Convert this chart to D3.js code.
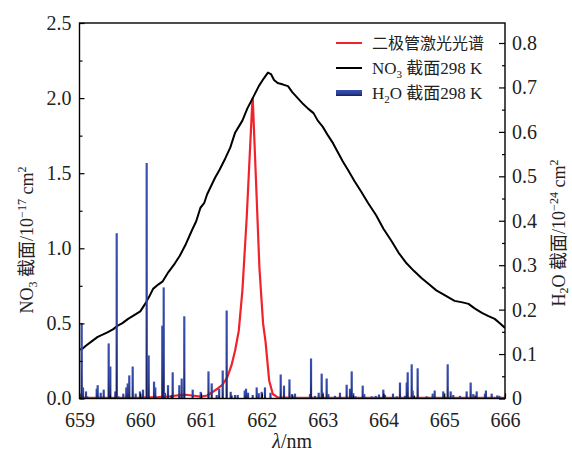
<!DOCTYPE html>
<html>
<head>
<meta charset="utf-8">
<script src="https://cdn.jsdelivr.net/npm/d3@7"></script>
<style>
  body { margin: 0; background: #fff; }
  svg text { font-family: "Liberation Serif", "Noto Sans CJK SC", serif; fill: #222; }
</style>
</head>
<body>
<div id="chart"></div>
<script>
const WIDTH = 572;
const HEIGHT = 452;

// NO3 cross section (left axis, 1e-17 cm^2)
const no3Wave = [659.00, 659.03, 659.10, 659.20, 659.30, 659.46, 659.55, 659.63, 659.70, 659.80,
  659.94, 660.00, 660.08, 660.15, 660.21, 660.30, 660.37, 660.46, 660.57, 660.65,
  660.74, 660.85, 660.92, 660.99, 661.05, 661.10, 661.23, 661.30, 661.40, 661.48,
  661.56, 661.62, 661.68, 661.76, 661.85, 661.95, 662.03, 662.10, 662.15, 662.20,
  662.26, 662.35, 662.43, 662.50, 662.59, 662.68, 662.76, 662.85, 662.92, 663.00,
  663.09, 663.17, 663.25, 663.33, 663.42, 663.52, 663.63, 663.75, 663.88, 664.00,
  664.13, 664.25, 664.38, 664.50, 664.63, 664.75, 664.87, 665.00, 665.17, 665.30,
  665.40, 665.50, 665.62, 665.72, 665.83, 665.92, 666.00];
const no3Value = [0.33, 0.325, 0.35, 0.38, 0.41, 0.44, 0.46, 0.485, 0.50, 0.53,
  0.565, 0.58, 0.63, 0.68, 0.73, 0.76, 0.78, 0.84, 0.90, 0.95,
  1.02, 1.12, 1.18, 1.27, 1.30, 1.36, 1.47, 1.52, 1.60, 1.67,
  1.77, 1.81, 1.85, 1.93, 2.00, 2.08, 2.13, 2.17, 2.16, 2.12,
  2.10, 2.09, 2.08, 2.04, 2.00, 1.96, 1.93, 1.90, 1.85, 1.81,
  1.75, 1.70, 1.64, 1.58, 1.52, 1.45, 1.38, 1.30, 1.22, 1.13,
  1.05, 0.97, 0.90, 0.85, 0.80, 0.76, 0.72, 0.69, 0.65, 0.64,
  0.63, 0.60, 0.57, 0.55, 0.53, 0.50, 0.47];

// diode laser spectrum (left axis scale)
const laserWave = [659.00, 659.50, 660.00, 660.30, 660.50, 660.65, 660.75, 660.85, 661.00, 661.10,
  661.27, 661.35, 661.43, 661.50, 661.56, 661.62, 661.68, 661.75, 661.84, 661.85,
  661.96, 662.02, 662.06, 662.12, 662.18, 662.26, 662.50, 663.00, 664.00, 665.00, 666.00];
const laserValue = [0.005, 0.005, 0.006, 0.01, 0.015, 0.022, 0.025, 0.02, 0.012, 0.02,
  0.065, 0.09, 0.14, 0.22, 0.32, 0.45, 0.72, 1.2, 1.95, 2.0,
  0.87, 0.5, 0.38, 0.12, 0.03, 0.007, 0.005, 0.005, 0.005, 0.005, 0.005];

// H2O line cross sections (right axis, 1e-24 cm^2)
const h2oWave = [659.036, 659.058, 659.107, 659.128, 659.283, 659.299, 659.349, 659.398, 659.480, 659.507,
  659.589, 659.612, 659.638, 659.721, 659.770, 659.793, 659.819, 659.875, 659.924, 659.995,
  660.045, 660.105, 660.138, 660.226, 660.247, 660.362, 660.385, 660.406, 660.456, 660.533,
  660.642, 660.681, 660.724, 660.862, 660.994, 661.122, 661.175, 661.257, 661.298, 661.356,
  661.421, 661.487, 661.558, 661.602, 661.718, 661.740, 661.773, 661.849, 661.915, 661.948,
  661.997, 662.051, 662.142, 662.310, 662.364, 662.454, 662.496, 662.545, 662.792, 662.809,
  662.874, 662.935, 662.984, 662.994, 663.066, 663.093, 663.203, 663.285, 663.395, 663.450,
  663.478, 663.504, 663.543, 663.659, 663.685, 663.807, 663.873, 663.927, 663.998, 664.026,
  664.157, 664.218, 664.272, 664.355, 664.383, 664.399, 664.465, 664.481, 664.563, 664.711,
  664.810, 664.843, 664.984, 665.057, 665.106, 665.149, 665.259, 665.369, 665.435, 665.478,
  665.534, 665.670, 665.686, 665.781, 665.873, 665.906];
const h2oValue = [0.170, 0.025, 0.016, 0.005, 0.022, 0.030, 0.013, 0.020, 0.124, 0.072,
  0.016, 0.372, 0.005, 0.011, 0.025, 0.034, 0.052, 0.072, 0.011, 0.016,
  0.020, 0.530, 0.097, 0.038, 0.025, 0.164, 0.250, 0.013, 0.030, 0.059,
  0.030, 0.045, 0.185, 0.020, 0.015, 0.061, 0.034, 0.008, 0.022, 0.063,
  0.198, 0.015, 0.008, 0.008, 0.018, 0.022, 0.013, 0.008, 0.025, 0.012,
  0.015, 0.025, 0.013, 0.054, 0.029, 0.043, 0.010, 0.011, 0.010, 0.090,
  0.006, 0.013, 0.056, 0.015, 0.045, 0.010, 0.006, 0.013, 0.031, 0.022,
  0.061, 0.012, 0.005, 0.029, 0.010, 0.005, 0.006, 0.009, 0.020, 0.008,
  0.011, 0.005, 0.036, 0.006, 0.036, 0.059, 0.077, 0.018, 0.068, 0.005,
  0.011, 0.018, 0.016, 0.077, 0.016, 0.008, 0.006, 0.016, 0.036, 0.010,
  0.016, 0.011, 0.018, 0.011, 0.007, 0.006];

const xTicks = [659, 660, 661, 662, 663, 664, 665, 666];
const leftTicks = [0, 0.5, 1.0, 1.5, 2.0, 2.5];
const rightTicks = [0, 0.1, 0.2, 0.3, 0.4, 0.5, 0.6, 0.7, 0.8];

const legendLabels = ['二极管激光光谱', 'NO₃ 截面298 K', 'H₂O 截面298 K'];

const plot = { left: 79.5, right: 505, top: 23, bottom: 398.5 };

const x = d3.scaleLinear().domain([659, 666]).range([plot.left, plot.right]);
const yL = d3.scaleLinear().domain([0, 2.5]).range([plot.bottom, plot.top]);
const yR = d3.scaleLinear().domain([0, 0.845]).range([plot.bottom, plot.top]);

const svg = d3.select('#chart').append('svg')
  .attr('width', WIDTH)
  .attr('height', HEIGHT);

const defs = svg.append('defs');
const grad = defs.append('linearGradient')
  .attr('id', 'barGrad')
  .attr('x1', 0).attr('y1', 0).attr('x2', 0).attr('y2', 1);
grad.append('stop').attr('offset', '0%').attr('stop-color', '#3a52b4');
grad.append('stop').attr('offset', '60%').attr('stop-color', '#2c3f98');
grad.append('stop').attr('offset', '100%').attr('stop-color', '#181c58');

defs.append('clipPath').attr('id', 'clip')
  .append('rect')
  .attr('x', plot.left).attr('y', plot.top)
  .attr('width', plot.right - plot.left).attr('height', plot.bottom - plot.top);

const g = svg.append('g').attr('clip-path', 'url(#clip)');

// laser line
const laser = laserWave.map((w, i) => [w, laserValue[i]]);
g.append('path')
  .datum(laser)
  .attr('fill', 'none')
  .attr('stroke', '#f0222a')
  .attr('stroke-width', 2.2)
  .attr('stroke-linejoin', 'round')
  .attr('d', d3.line().x(d => x(d[0])).y(d => yL(d[1])));

// NO3 line
const no3 = no3Wave.map((w, i) => [w, no3Value[i]]);
g.append('path')
  .datum(no3)
  .attr('fill', 'none')
  .attr('stroke', '#000')
  .attr('stroke-width', 2)
  .attr('stroke-linejoin', 'round')
  .attr('d', d3.line().x(d => x(d[0])).y(d => yL(d[1])));

// H2O sticks
const h2o = h2oWave.map((w, i) => ({ w, v: h2oValue[i] }));
const barW = 2.2;
g.selectAll('rect.h2o')
  .data(h2o)
  .enter()
  .append('rect')
  .attr('class', 'h2o')
  .attr('x', d => x(d.w) - barW / 2)
  .attr('y', d => yR(d.v))
  .attr('width', barW)
  .attr('height', d => yR(0) - yR(d.v))
  .attr('fill', 'url(#barGrad)');

// axes
const fontSize = 20;

svg.append('g')
  .attr('transform', `translate(0,${plot.bottom})`)
  .call(d3.axisBottom(x).tickValues(xTicks).tickFormat(d3.format('d'))
    .tickSize(-5).tickSizeOuter(0).tickPadding(14));
svg.append('g')
  .attr('transform', `translate(0,${plot.bottom})`)
  .call(d3.axisBottom(x).tickValues(d3.range(659.5, 666, 1)).tickFormat('')
    .tickSize(-3).tickSizeOuter(0));

svg.append('g')
  .attr('transform', `translate(${plot.left},0)`)
  .call(d3.axisLeft(yL).tickValues(leftTicks).tickFormat(d3.format('.1f'))
    .tickSize(-5).tickSizeOuter(0).tickPadding(8));
svg.append('g')
  .attr('transform', `translate(${plot.left},0)`)
  .call(d3.axisLeft(yL).tickValues([0.25, 0.75, 1.25, 1.75, 2.25]).tickFormat('')
    .tickSize(-3).tickSizeOuter(0));

svg.append('g')
  .attr('transform', `translate(${plot.right},0)`)
  .call(d3.axisRight(yR).tickValues(rightTicks).tickFormat(d => d === 0 ? '0' : d3.format('.1f')(d))
    .tickSize(-6).tickSizeOuter(0).tickPadding(7));
svg.append('g')
  .attr('transform', `translate(${plot.right},0)`)
  .call(d3.axisRight(yR).tickValues(d3.range(0.05, 0.85, 0.1)).tickFormat('')
    .tickSize(-3).tickSizeOuter(0));

svg.selectAll('.tick text')
  .style('font-family', '"Liberation Serif", serif')
  .style('font-size', `${fontSize}px`)
  .attr('fill', '#222');
svg.selectAll('.tick line').attr('stroke', '#000').attr('stroke-width', 1.2);
svg.selectAll('.domain').remove();

// frame
svg.append('rect')
  .attr('x', plot.left).attr('y', plot.top)
  .attr('width', plot.right - plot.left).attr('height', plot.bottom - plot.top)
  .attr('fill', 'none')
  .attr('stroke', '#000')
  .attr('stroke-width', 1.4);

// axis titles
const xTitle = svg.append('text')
  .attr('x', (plot.left + plot.right) / 2)
  .attr('y', 448)
  .attr('text-anchor', 'middle')
  .style('font-size', '20px');
xTitle.append('tspan').style('font-style', 'italic').text('λ');
xTitle.append('tspan').text('/nm');

const leftTitle = svg.append('text')
  .attr('transform', 'translate(33,240) rotate(-90)')
  .attr('text-anchor', 'middle')
  .style('font-size', '18px');
leftTitle.append('tspan').text('NO');
leftTitle.append('tspan').attr('dy', 4).style('font-size', '12px').text('3');
leftTitle.append('tspan').attr('dy', -4).text(' 截面/10');
leftTitle.append('tspan').attr('dy', -7).style('font-size', '12px').text('−17');
leftTitle.append('tspan').attr('dy', 7).text(' cm');
leftTitle.append('tspan').attr('dy', -7).style('font-size', '12px').text('2');

const rightTitle = svg.append('text')
  .attr('transform', 'translate(565,233) rotate(-90)')
  .attr('text-anchor', 'middle')
  .style('font-size', '18px');
rightTitle.append('tspan').text('H');
rightTitle.append('tspan').attr('dy', 3).style('font-size', '12px').text('2');
rightTitle.append('tspan').attr('dy', -3).text('O 截面/10');
rightTitle.append('tspan').attr('dy', -7).style('font-size', '12px').text('−24');
rightTitle.append('tspan').attr('dy', 7).text(' cm');
rightTitle.append('tspan').attr('dy', -7).style('font-size', '12px').text('2');

// legend
const legend = svg.append('g').attr('transform', 'translate(336,43)');
const rowH = 25;
legend.append('line')
  .attr('x1', 0).attr('x2', 26).attr('y1', 0).attr('y2', 0)
  .attr('stroke', '#f0222a').attr('stroke-width', 2);
legend.append('line')
  .attr('x1', 0).attr('x2', 26).attr('y1', rowH).attr('y2', rowH)
  .attr('stroke', '#000').attr('stroke-width', 2);
legend.append('rect')
  .attr('x', 0).attr('y', rowH * 2 - 3).attr('width', 26).attr('height', 6)
  .attr('fill', 'url(#barGrad)');

legend.append('text').attr('x', 36).attr('y', 6).style('font-size', '16px')
  .style('font-family', '"Noto Sans CJK SC", sans-serif').text(legendLabels[0]);

const l1 = legend.append('text').attr('x', 36).attr('y', rowH + 6).style('font-size', '17px');
l1.append('tspan').text('NO');
l1.append('tspan').attr('dy', 4).style('font-size', '11px').text('3');
l1.append('tspan').attr('dy', -4).text(' 截面298 K');

const l2 = legend.append('text').attr('x', 36).attr('y', rowH * 2 + 6).style('font-size', '17px');
l2.append('tspan').text('H');
l2.append('tspan').attr('dy', 4).style('font-size', '11px').text('2');
l2.append('tspan').attr('dy', -4).text('O 截面298 K');
</script>
</body>
</html>
